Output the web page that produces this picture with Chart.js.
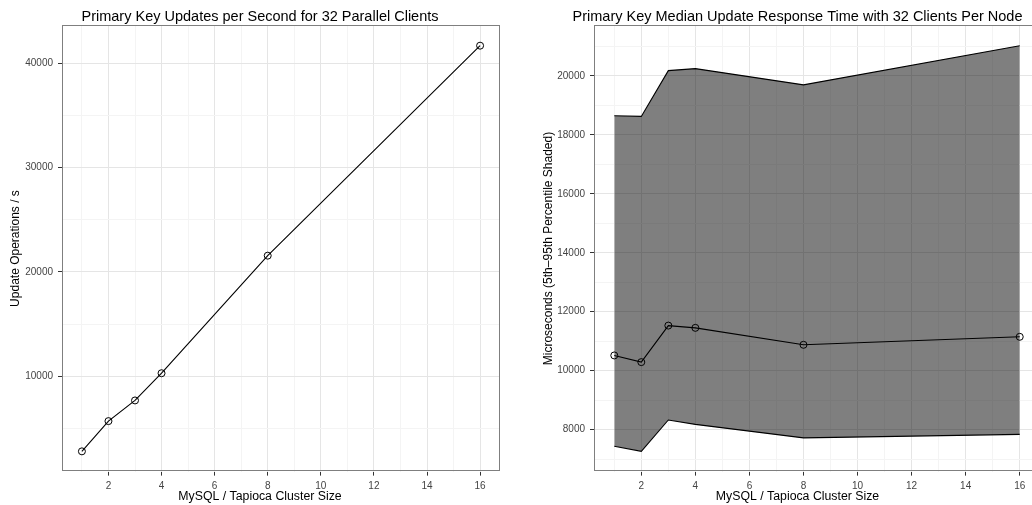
<!DOCTYPE html>
<html>
<head>
<meta charset="utf-8">
<script src="https://cdn.jsdelivr.net/npm/chart.js@4/dist/chart.umd.min.js"></script>
<style>
  html, body { margin: 0; padding: 0; background: #fff; width: 1032px; height: 505px; overflow: hidden; }
  .panel { position: absolute; top: 0; }
</style>
</head>
<body>
<div class="panel" style="left:0"><canvas id="updates" width="520" height="505"></canvas></div>
<div class="panel" style="left:520px"><canvas id="latency" width="555" height="505"></canvas></div>
<script>
// cluster sizes (x axis) and the measured values
const clusterSizes = [1, 2, 3, 4, 8, 16];
const updatesPerSecond = [2800, 5700, 7680, 10290, 21560, 41690];
const medianLatency = [10517, 10291, 11530, 11453, 10878, 11149];
const p95Latency = [18649, 18625, 20179, 20247, 19696, 21024];
const p5Latency = [7436, 7264, 8328, 8179, 7720, 7841];

// tick values
const xMajor = [2, 4, 6, 8, 10, 12, 14, 16];
const xMinor = [1, 3, 5, 7, 9, 11, 13, 15];
const updYMajor = [10000, 20000, 30000, 40000];
const updYMinor = [5000, 15000, 25000, 35000];
const latYMajor = [8000, 10000, 12000, 14000, 16000, 18000, 20000];
const latYMinor = [7000, 9000, 11000, 13000, 15000, 17000, 19000, 21000];

const FONT = "'Liberation Sans', Arial, sans-serif";

// ggplot style 5% expansion
function expand(vals) {
  const lo = Math.min(...vals), hi = Math.max(...vals);
  const pad = (hi - lo) * 0.05;
  return [lo - pad, hi + pad];
}

const toXY = ys => clusterSizes.map((x, i) => ({ x: x, y: ys[i] }));

const panelBorder = {
  id: 'panelBorder',
  afterDatasetsDraw(chart) {
    const { ctx, chartArea: a } = chart;
    ctx.save();
    ctx.strokeStyle = '#7f7f7f';
    ctx.lineWidth = 1;
    ctx.strokeRect(Math.round(a.left) + 0.5, Math.round(a.top) + 0.5,
      Math.round(a.right - a.left) - 1, Math.round(a.bottom - a.top) - 1);
    ctx.restore();
  }
};

function axis(major, minor, range, extra) {
  return Object.assign({
    type: 'linear',
    min: range[0],
    max: range[1],
    afterBuildTicks: s => { s.ticks = major.concat(minor).sort((a, b) => a - b).map(v => ({ value: v })); },
    border: { display: false },
    grid: {
      color: c => (c.tick && major.includes(c.tick.value)) ? '#e5e5e5' : '#f4f4f4',
      tickColor: c => (c.tick && major.includes(c.tick.value)) ? '#333333' : 'rgba(0,0,0,0)',
      tickLength: 4,
      lineWidth: 1
    },
    ticks: {
      autoSkip: false,
      maxRotation: 0,
      color: '#444444',
      font: { family: FONT, size: 10 },
      padding: 5,
      callback: v => major.includes(v) ? String(v) : ''
    }
  }, extra || {});
}

// empty box on the right so the titles stay centred on the whole canvas
function spacer(width) {
  return {
    type: 'linear', position: 'right', display: true,
    grid: { display: false }, border: { display: false },
    ticks: { display: false },
    afterFit: s => { s.width = width; }
  };
}

function baseOptions(titleText, yTitle, yMajor, yMinor, yRange, yWidth, yTitlePad, rightGap) {
  return {
    responsive: false,
    animation: false,
    layout: { padding: 0 },
    plugins: {
      legend: { display: false },
      tooltip: { enabled: false },
      filler: { drawTime: 'beforeDatasetsDraw' },
      title: {
        display: true, text: titleText, color: '#000',
        font: { family: FONT, size: 14.5, weight: 'normal' },
        padding: { top: 8, bottom: 0 }
      },
      subtitle: {
        display: true, position: 'bottom', text: 'MySQL / Tapioca Cluster Size', color: '#000',
        font: { family: FONT, size: 12.3, weight: 'normal' },
        padding: { top: 0, bottom: 1 }
      }
    },
    scales: {
      x: axis(xMajor, xMinor, [0.25, 16.75], {
        afterFit: s => { s.height = 17.6; }
      }),
      y: axis(yMajor, yMinor, yRange, {
        afterFit: s => { s.width = yWidth; },
        title: {
          display: true, text: yTitle, color: '#000',
          font: { family: FONT, size: 12 },
          padding: { top: yTitlePad, bottom: 0 }
        }
      }),
      gap: spacer(rightGap)
    }
  };
}

const pointStyle = {
  borderColor: '#000',
  borderWidth: 1.1,
  pointRadius: 3.5,
  pointBorderWidth: 1,
  pointBackgroundColor: 'rgba(0,0,0,0)',
  pointBorderColor: '#000',
  fill: false,
  tension: 0
};

new Chart(document.getElementById('updates'), {
  type: 'line',
  data: {
    datasets: [Object.assign({ data: toXY(updatesPerSecond) }, pointStyle)]
  },
  options: baseOptions('Primary Key Updates per Second for 32 Parallel Clients',
    'Update Operations / s', updYMajor, updYMinor, expand(updatesPerSecond), 62, 8, 20),
  plugins: [panelBorder]
});

new Chart(document.getElementById('latency'), {
  type: 'line',
  data: {
    datasets: [
      Object.assign({ data: toXY(medianLatency) }, pointStyle),
      {
        data: toXY(p95Latency),
        borderColor: '#000', borderWidth: 1.1, pointRadius: 0,
        backgroundColor: 'rgba(0,0,0,0.5)', fill: '+1', tension: 0
      },
      {
        data: toXY(p5Latency),
        borderColor: '#000', borderWidth: 1.1, pointRadius: 0,
        fill: false, tension: 0
      }
    ]
  },
  options: baseOptions('Primary Key Median Update Response Time with 32 Clients Per Node',
    'Microseconds (5th\u201395th Percentile Shaded)', latYMajor, latYMinor,
    expand(p5Latency.concat(p95Latency)), 74, 21, 35),
  plugins: [panelBorder]
});
</script>
</body>
</html>
